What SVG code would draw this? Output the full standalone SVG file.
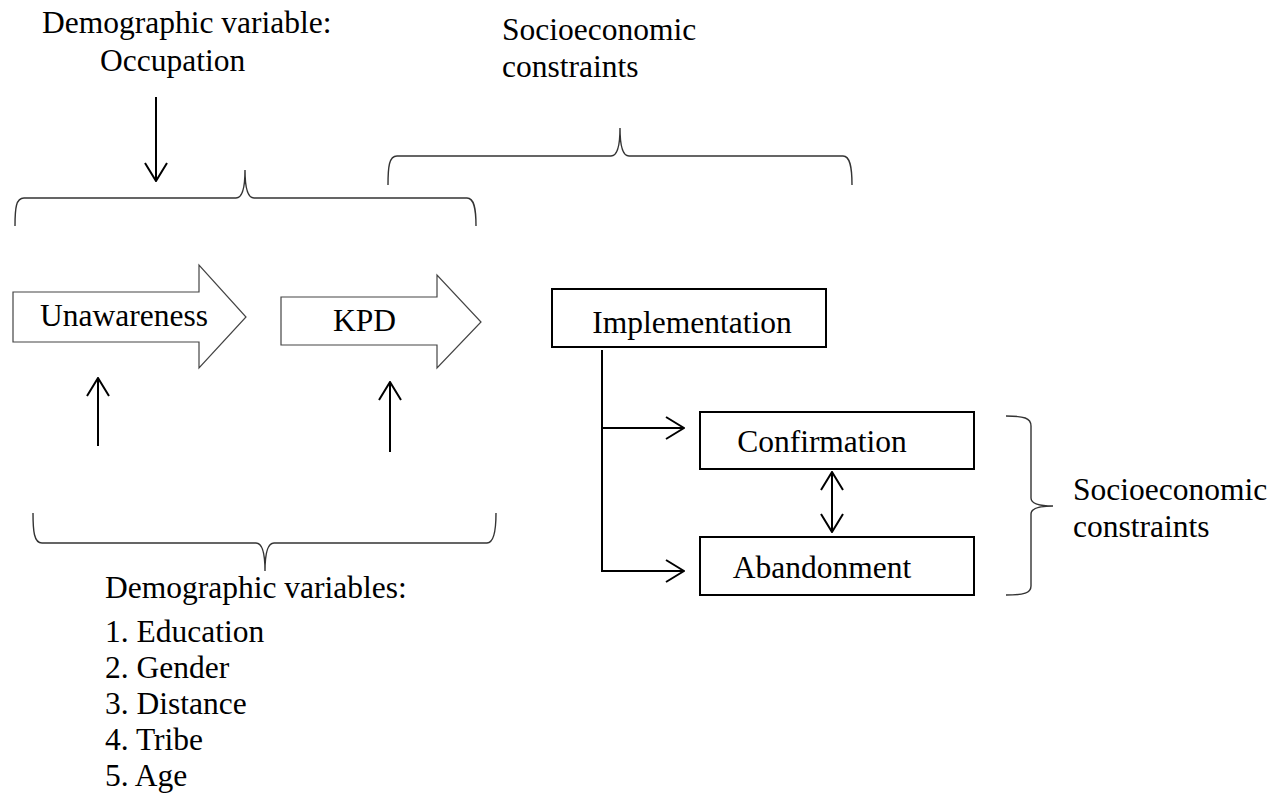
<svg xmlns="http://www.w3.org/2000/svg" width="1288" height="802" viewBox="0 0 1288 802">
<style>
text{font-family:"Liberation Serif","Times New Roman",serif;font-size:31.5px;fill:#000}
.blk{fill:#fff;stroke:#444;stroke-width:1.2}
.box{fill:#fff;stroke:#000;stroke-width:2}
.brace{fill:none;stroke:#333;stroke-width:1.4}
.con{fill:none;stroke:#000;stroke-width:2}
</style>
<defs>
<marker id="ah" markerUnits="userSpaceOnUse" viewBox="0 0 20 24" refX="19" refY="12" markerWidth="20" markerHeight="24" orient="auto-start-reverse">
<path d="M1,1 L19,12 L1,23" fill="none" stroke="#000" stroke-width="2"/>
</marker>
</defs>
<rect width="1288" height="802" fill="#fff"/>
<g id="label-occupation">
<text x="42" y="33">Demographic variable:</text>
<text x="100" y="71">Occupation</text>
</g>
<g id="label-socio-top">
<text x="502" y="40">Socioeconomic</text>
<text x="502" y="77">constraints</text>
</g>
<g id="brace-top-left"><path class="brace" d="M15,226 C15,208 16,198 24,198 L236,198 C242,198 245,190 245,170 C245,190 248,198 254,198 L467,198 C474,198 476,208 476,226"/></g>
<g id="brace-top-right"><path class="brace" d="M388,185 C388,167 389,156 397,156 L611,156 C617,156 620,148 620,128 C620,148 623,156 629,156 L843,156 C850,156 852,167 852,185"/></g>
<g id="unawareness">
<polygon class="blk" points="13,292 199,292 199,265 246,317 199,368 199,342 13,342"/>
<text x="40" y="326">Unawareness</text>
</g>
<g id="kpd">
<polygon class="blk" points="281,297 437,297 437,275 481,322 437,368 437,345 281,345"/>
<text x="333" y="331">KPD</text>
</g>
<g id="implementation">
<rect class="box" x="552" y="289" width="274" height="58"/>
<text x="692" y="333" text-anchor="middle">Implementation</text>
</g>
<g id="confirmation">
<rect class="box" x="700" y="412" width="274" height="57"/>
<text x="822" y="452" text-anchor="middle">Confirmation</text>
</g>
<g id="abandonment">
<rect class="box" x="700" y="537" width="274" height="58"/>
<text x="822" y="578" text-anchor="middle">Abandonment</text>
</g>
<g id="brace-right"><path class="brace" d="M1006,416 C1024,416 1031,418 1031,426 L1031,498 C1031,503 1038,506 1053,506 C1038,506 1031,509 1031,514 L1031,586 C1031,593 1024,595 1006,595"/></g>
<g id="label-socio-right">
<text x="1073" y="500">Socioeconomic</text>
<text x="1073" y="537">constraints</text>
</g>
<g id="brace-bottom"><path class="brace" d="M33,513 C33,531 34,543 42,543 L256,543 C262,543 265,551 265,571 C265,551 268,543 274,543 L487,543 C494,543 496,531 496,513"/></g>
<g id="label-demographics">
<text x="105" y="598">Demographic variables:</text>
<text x="105" y="642">1. Education</text>
<text x="105" y="678">2. Gender</text>
<text x="105" y="714">3. Distance</text>
<text x="105" y="750">4. Tribe</text>
<text x="105" y="786">5. Age</text>
</g>
<g id="connectors">
<line class="con" x1="156" y1="97" x2="156" y2="181" marker-end="url(#ah)"/>
<line class="con" x1="98" y1="446" x2="98" y2="378" marker-end="url(#ah)"/>
<line class="con" x1="390" y1="452" x2="390" y2="382" marker-end="url(#ah)"/>
<line class="con" x1="602" y1="350" x2="602" y2="572"/>
<line class="con" x1="601" y1="428" x2="684" y2="428" marker-end="url(#ah)"/>
<line class="con" x1="601" y1="571" x2="684" y2="571" marker-end="url(#ah)"/>
<line class="con" x1="832" y1="472" x2="832" y2="532" marker-start="url(#ah)" marker-end="url(#ah)"/>
</g>
</svg>
